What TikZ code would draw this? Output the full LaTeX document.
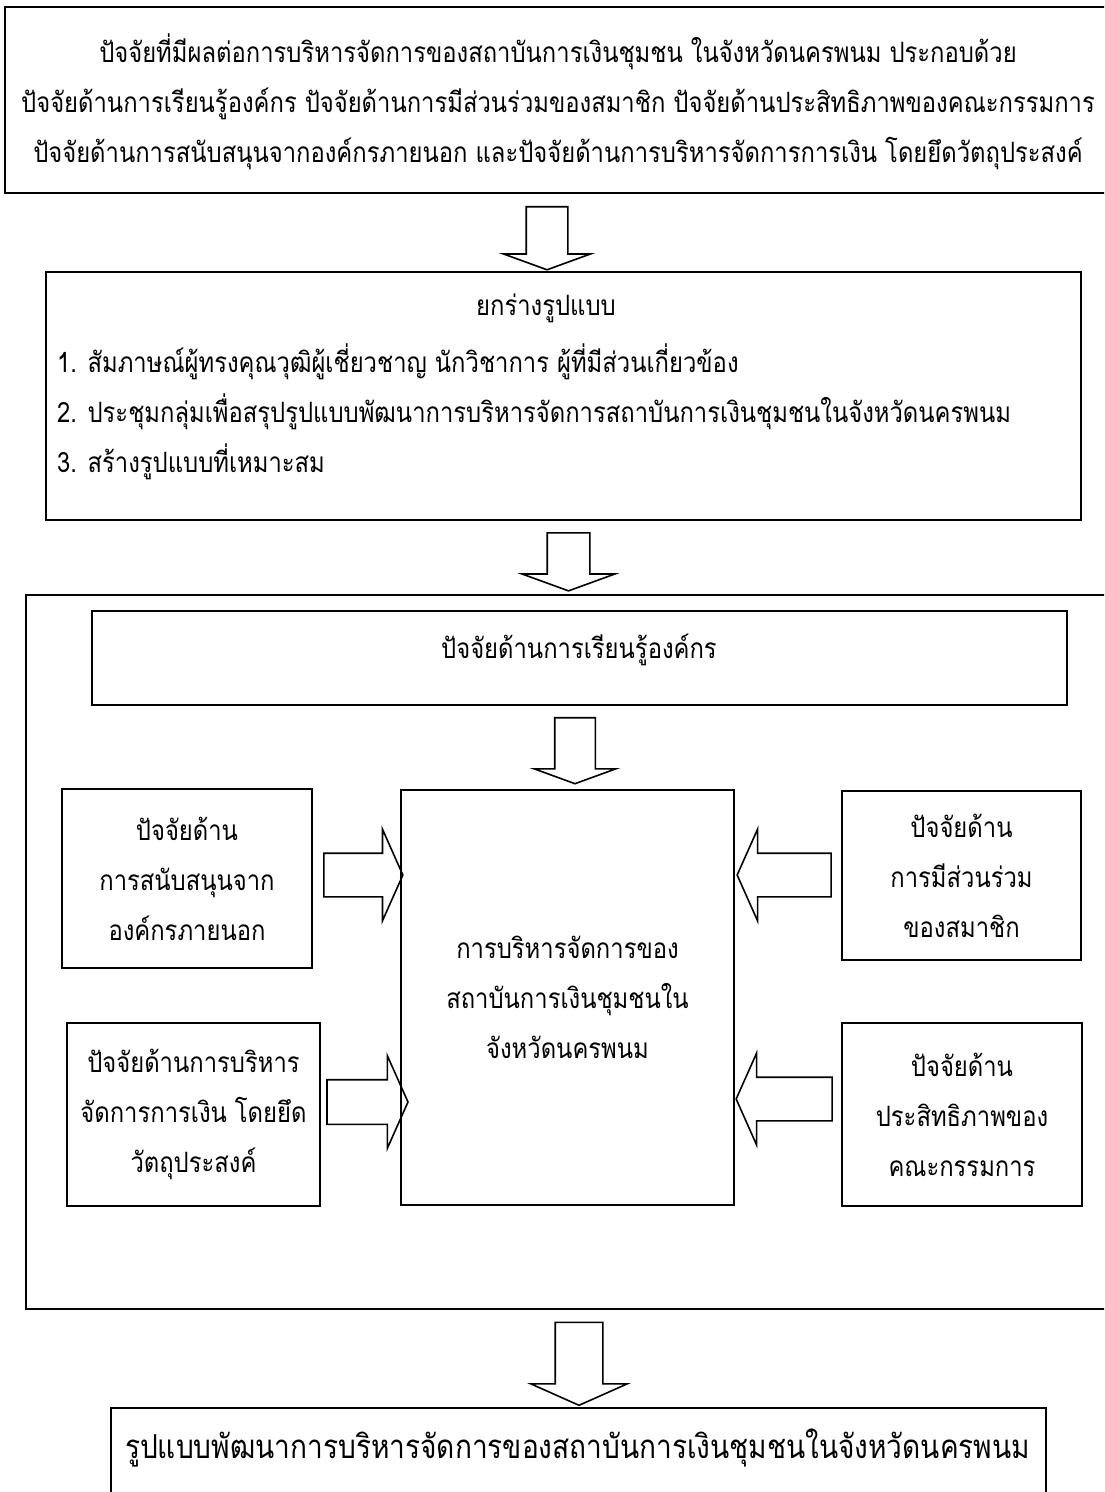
\documentclass[tikz,border=0pt]{standalone}
\usepackage{fontspec}
\newfontfamily\thaifont[Script=Thai, FakeStretch=0.85]{Loma}
\usetikzlibrary{shapes.arrows}

\tikzset{
  box/.style={draw, line width=1pt, rectangle, inner sep=0pt},
  txt/.style={align=center, font={\thaifont\fontsize{14}{25}\selectfont}},
  fatarrow/.style={single arrow, draw, line width=0.8pt, inner xsep=0pt, inner ysep=10.5pt,
    minimum width=1pt, single arrow head extend=12pt, single arrow tip angle=132},
  fatdown/.style={fatarrow, rotate=-90, single arrow tip angle=140}
}

\begin{document}
\begin{tikzpicture}[x=0.5pt,y=-0.5pt]
  \useasboundingbox (0,0) rectangle (1104,1492);
  \clip (0,0) rectangle (1104,1492);

  % factors
  \node[box, minimum width=553pt, minimum height=93pt] (factors) at (557.5,100) {};
  \node[txt] (factorstxt) at (558,102)
    {ปัจจัยที่มีผลต่อการบริหารจัดการของสถาบันการเงินชุมชน ในจังหวัดนครพนม ประกอบด้วย\\
     ปัจจัยด้านการเรียนรู้องค์กร ปัจจัยด้านการมีส่วนร่วมของสมาชิก ปัจจัยด้านประสิทธิภาพของคณะกรรมการ\\
     ปัจจัยด้านการสนับสนุนจากองค์กรภายนอก และปัจจัยด้านการบริหารจัดการการเงิน โดยยึดวัตถุประสงค์};

  \node[fatdown, minimum height=31.5pt, inner ysep=10pt, single arrow head extend=11.25pt] (arr1) at (547,234.5) {};

  % draft
  \node[box, line width=0.8pt, minimum width=517.5pt, minimum height=124pt] (draft) at (563.5,396) {};
  \node[txt] (drafttitle) at (546,308) {ยกร่างรูปแบบ};
  \node[txt, align=left, anchor=west] (draftsteps) at (50,412)
    {1. สัมภาษณ์ผู้ทรงคุณวุฒิผู้เชี่ยวชาญ นักวิชาการ ผู้ที่มีส่วนเกี่ยวข้อง\\
     2. ประชุมกลุ่มเพื่อสรุปรูปแบบพัฒนาการบริหารจัดการสถาบันการเงินชุมชนในจังหวัดนครพนม\\
     3. สร้างรูปแบบที่เหมาะสม};

  \node[fatdown, minimum height=29pt, inner ysep=10.25pt, single arrow head extend=12.5pt] (arr2) at (568.5,558) {};

  % outer frame
  \node[box, line width=1.2pt, minimum width=542pt, minimum height=357pt] (frame) at (568,952) {};

  \node[box, minimum width=487.5pt, minimum height=47pt] (learn) at (579.5,658) {};
  \node[txt] (learntxt) at (579,650) {ปัจจัยด้านการเรียนรู้องค์กร};

  \node[fatdown, minimum height=33pt, inner ysep=9.75pt, single arrow head extend=10.25pt] (arr3) at (575,747) {};

  \node[box, line width=0.6pt, minimum width=166.5pt, minimum height=207.5pt, txt] (core) at (567.5,997.5)
    {การบริหารจัดการของ\\สถาบันการเงินชุมชนใน\\จังหวัดนครพนม};

  \node[box, minimum width=125pt, minimum height=89.5pt, txt] (support) at (187,878.5)
    {ปัจจัยด้าน\\การสนับสนุนจาก\\องค์กรภายนอก};
  \node[box, minimum width=119.5pt, minimum height=84.5pt, txt] (member) at (961.5,875.5)
    {ปัจจัยด้าน\\การมีส่วนร่วม\\ของสมาชิก};
  \node[box, minimum width=126.5pt, minimum height=91.5pt, txt] (finance) at (193.5,1114.5)
    {ปัจจัยด้านการบริหาร\\จัดการการเงิน โดยยึด\\วัตถุประสงค์};
  \node[box, minimum width=120pt, minimum height=91.5pt, txt] (board) at (962,1114.5)
    {ปัจจัยด้าน\\ประสิทธิภาพของ\\คณะกรรมการ};

  \node[fatarrow, minimum height=39.5pt] (arrsupport) at (358.5,875) {};
  \node[fatarrow, rotate=180, minimum height=47pt] (arrmember) at (789,875) {};
  \node[fatarrow, minimum height=40.5pt, inner ysep=10.75pt] (arrfinance) at (362.5,1102) {};
  \node[fatarrow, rotate=180, minimum height=48pt] (arrboard) at (789,1099) {};

  \node[fatdown, minimum height=41.5pt, inner ysep=11.5pt, single arrow head extend=12.25pt, single arrow tip angle=132] (arr4) at (579,1358.5) {};

  % model
  \node[box, minimum width=467.5pt, minimum height=60pt] (model) at (578.5,1468) {};
  \node[txt, font={\thaifont\fontsize{16.5}{25}\selectfont}] (modeltxt) at (577.5,1448)
    {รูปแบบพัฒนาการบริหารจัดการของสถาบันการเงินชุมชนในจังหวัดนครพนม};
\end{tikzpicture}
\end{document}
